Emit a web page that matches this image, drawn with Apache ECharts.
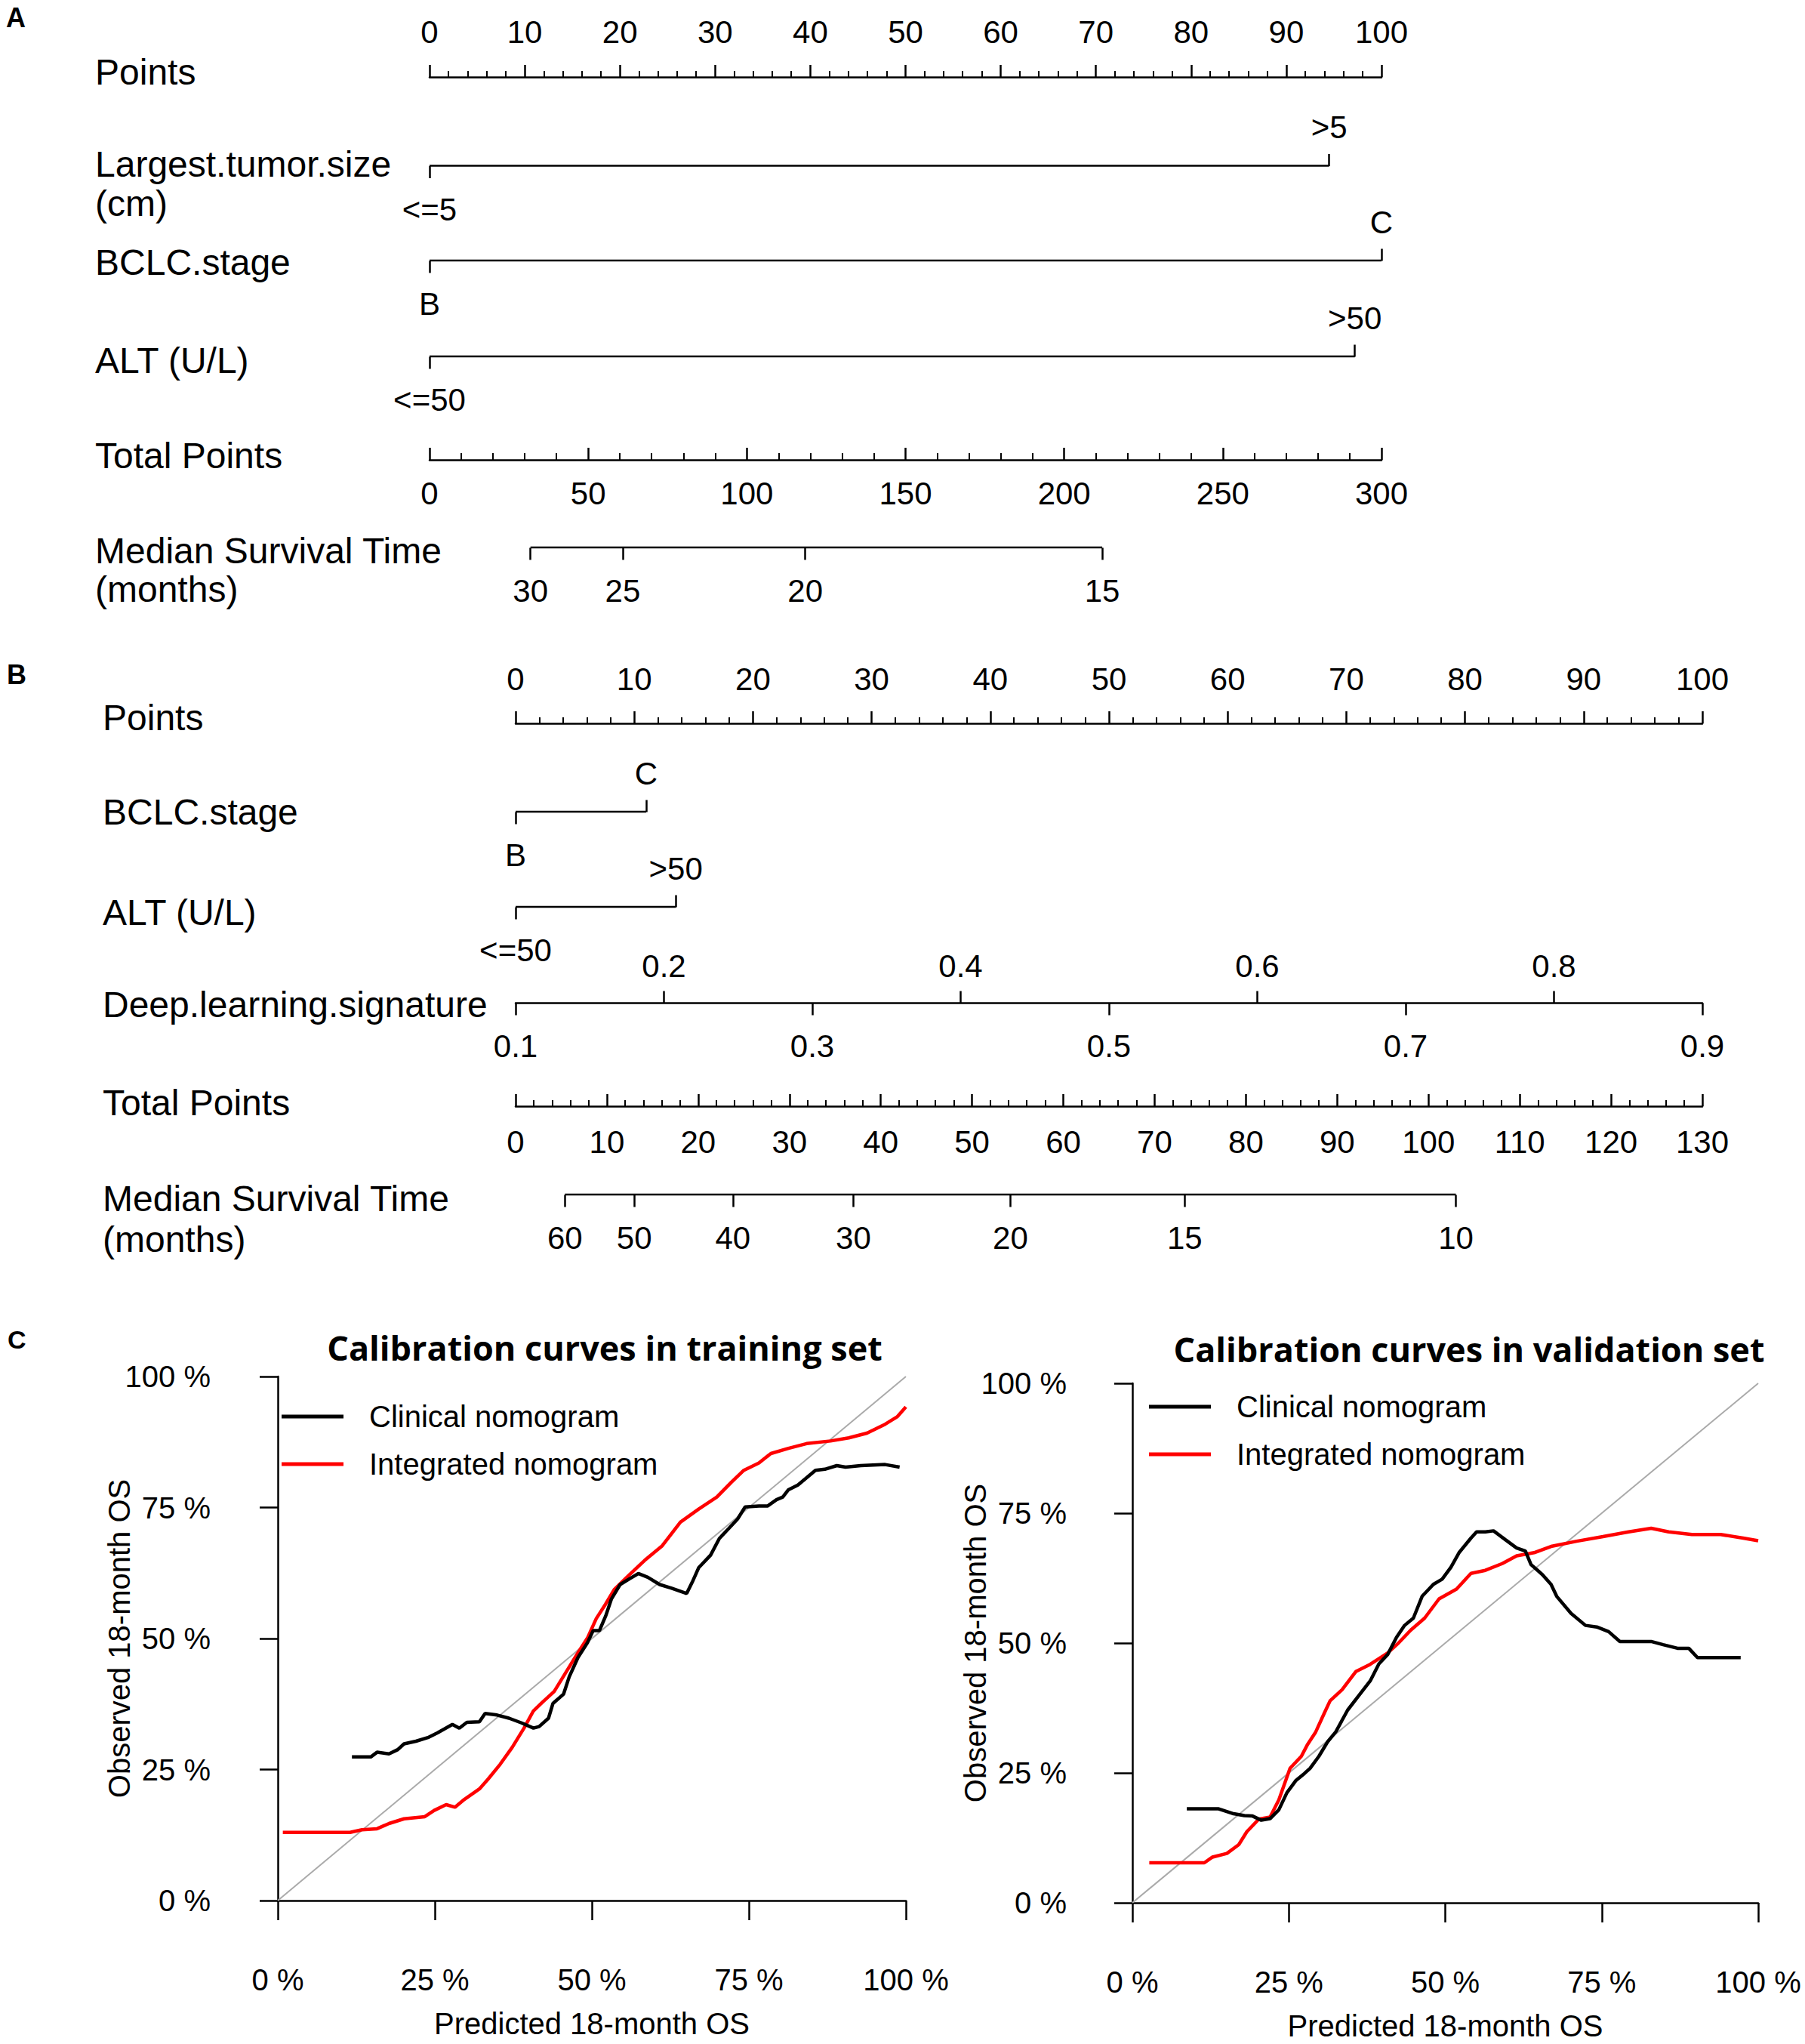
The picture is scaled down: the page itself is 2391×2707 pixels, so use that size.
<!DOCTYPE html>
<html><head><meta charset="utf-8">
<script src="https://cdn.jsdelivr.net/npm/echarts@6/dist/echarts.min.js"></script>
<style>html,body{margin:0;padding:0;background:#fff}#c{width:2391px;height:2707px}</style>
</head><body><div id="c"></div>
<script>
// ---------- Panel A: clinical nomogram ----------
const tumorLevelsA = ['<=5', '>5'];
const tumorPointsA = [0, 94.5];
const bclcLevelsA = ['B', 'C'];
const bclcPointsA = [0, 100];
const altLevelsA = ['<=50', '>50'];
const altPointsA = [0, 97.2];
const totalMaxA = 300;
const medianLabelsA = [30, 25, 20, 15];
const medianTotalPtsA = [31.8, 60.9, 118.4, 212];

// ---------- Panel B: integrated nomogram ----------
const bclcLevelsB = ['B', 'C'];
const bclcPointsB = [0, 11.0];
const altLevelsB = ['<=50', '>50'];
const altPointsB = [0, 13.5];
const dlsRange = [0.1, 0.9];
const dlsUpper = [0.2, 0.4, 0.6, 0.8];
const dlsLower = [0.1, 0.3, 0.5, 0.7, 0.9];
const totalMaxB = 130;
const medianLabelsB = [60, 50, 40, 30, 20, 15, 10];
const medianTotalPtsB = [5.4, 13.0, 23.8, 37.0, 54.2, 73.3, 103.0];

// ---------- Panel C: calibration curves (predicted %, observed %) ----------
const trainClinical = [[11.8,27.4],[14.8,27.4],[15.8,28.3],[17.7,28.0],[19.1,28.8],[20.1,29.9],[22.0,30.4],[23.9,31.1],[25.4,32.0],[27.8,33.6],[28.9,32.9],[30.1,34.0],[32.1,34.1],[33.0,35.7],[34.9,35.4],[36.8,34.8],[38.8,33.9],[40.7,32.9],[41.6,33.2],[43.1,34.8],[43.8,37.6],[45.5,39.4],[46.4,42.7],[47.8,46.4],[49.3,49.2],[50.2,51.5],[51.2,51.5],[52.2,54.3],[53.1,57.5],[54.5,60.3],[56.0,61.4],[57.4,62.4],[58.9,61.7],[60.8,60.3],[62.7,59.6],[65.1,58.6],[66.0,60.8],[67.0,63.5],[68.9,65.9],[70.3,69.1],[71.8,71.0],[73.2,72.8],[74.4,75.1],[76.6,75.3],[78.0,75.3],[79.4,76.5],[80.4,77.0],[81.3,78.4],[82.8,79.3],[84.2,80.7],[85.6,82.1],[87.1,82.3],[89.0,83.0],[90.4,82.7],[92.8,83.0],[96.7,83.2],[99.0,82.7]];
const trainIntegrated = [[0.8,13.0],[11.5,13.0],[13.4,13.5],[15.8,13.7],[17.7,14.7],[20.1,15.6],[23.4,16.0],[24.9,17.2],[26.8,18.3],[28.2,17.8],[29.7,19.3],[32.1,21.3],[33.5,23.2],[35.4,26.0],[37.3,29.2],[39.2,32.9],[40.7,36.2],[42.1,37.8],[44.0,39.9],[45.9,43.6],[47.8,47.3],[49.3,50.1],[50.7,53.8],[52.2,56.6],[53.6,59.4],[56.0,62.2],[58.4,64.9],[61.2,67.7],[64.1,72.2],[67.0,74.7],[69.9,77.0],[72.2,79.8],[74.2,82.1],[76.6,83.5],[78.5,85.3],[81.3,86.3],[84.2,87.2],[88.0,87.7],[90.9,88.3],[93.8,89.2],[96.7,90.9],[98.6,92.3],[100,94.2]];
const validClinical = [[8.7,18.1],[13.7,18.1],[16.0,17.2],[17.9,16.8],[19.2,16.7],[20.6,15.9],[22.0,16.2],[23.4,17.9],[24.7,21.2],[26.1,23.5],[27.5,24.9],[28.4,25.9],[29.8,28.2],[31.2,31.0],[32.5,32.9],[34.4,37.1],[36.2,39.9],[38.0,42.7],[39.4,46.0],[40.8,47.8],[42.2,51.1],[43.5,53.4],[44.9,54.8],[46.3,59.0],[48.1,61.3],[49.5,62.3],[50.9,64.6],[52.2,67.4],[54.1,70.2],[55.0,71.4],[56.4,71.4],[57.7,71.6],[59.6,69.9],[61.4,68.3],[62.8,67.7],[63.7,65.1],[65.5,63.2],[66.9,61.3],[67.8,59.0],[70.1,55.7],[72.4,53.4],[74.2,53.1],[76.1,52.2],[77.9,50.3],[82.9,50.3],[84.8,49.7],[87.1,49.0],[88.9,49.0],[90.3,47.2],[97.2,47.2]];
const validIntegrated = [[2.7,7.7],[11.5,7.7],[12.8,8.8],[15.1,9.5],[17.0,11.2],[18.3,13.7],[20.2,16.1],[22.0,16.5],[23.4,19.8],[25.2,25.9],[27.0,28.2],[28.0,30.5],[29.3,32.9],[30.7,36.6],[31.6,38.9],[33.5,41.0],[35.7,44.5],[38.0,45.9],[40.8,48.1],[42.6,50.1],[44.5,52.5],[46.7,54.8],[49.0,58.5],[51.8,60.4],[54.1,63.4],[56.4,64.0],[59.1,65.3],[61.4,66.8],[64.2,67.4],[66.9,68.6],[71.0,69.6],[75.2,70.5],[79.3,71.4],[82.9,72.1],[85.7,71.4],[89.4,70.9],[94.0,70.9],[97.6,70.2],[100,69.7]];
const calTicks = [0, 25, 50, 75, 100];

// ---------- builders ----------
const FONT = '"Liberation Sans", Arial, sans-serif';
const LW = 2.5;
const grids = [], xAxes = [], yAxes = [], series = [], graphics = [];
const blk = {color: '#000', width: LW};

function addGrid(left, width, top, height) {
  grids.push({left, width, top, height, containLabel: false, outerBoundsMode: 'none'});
  const g = grids.length - 1;
  yAxes.push({gridIndex: g, type: 'value', min: 0, max: 1, show: false});
  return g;
}
function baseAxis(g, min, max, position) {
  return {gridIndex: g, type: 'value', position: position, min, max,
    splitLine: {show: false}, minorSplitLine: {show: false}, axisLine: {show: false}};
}
function lbl(extra) { return Object.assign({fontSize: 42, fontFamily: FONT, color: '#000'}, extra); }
// full-length ruler (ticks pointing up)
function ruler(g, min, max, interval, minorSplit, below, majorLen, minorLen, margin) {
  const ax = baseAxis(g, min, max, 'top');
  ax.interval = interval;
  ax.axisLine = {show: true, lineStyle: blk};
  ax.axisTick = {show: true, inside: false, length: majorLen, lineStyle: blk};
  ax.minorTick = {show: true, splitNumber: minorSplit, length: minorLen, lineStyle: {color: '#000', width: 2}};
  ax.axisLabel = lbl({show: true, inside: below, margin, showMinLabel: true, showMaxLabel: true});
  xAxes.push(ax); return xAxes.length - 1;
}
// ticks/labels at given values; upper ones on a 'top' axis, lower ones on a 'bottom' axis (grid has ~0 height)
function marks(g, min, max, vals, labels, below, margin, showLine) {
  const ax = baseAxis(g, min, max, below ? 'bottom' : 'top');
  ax.axisLine = {show: !!showLine, lineStyle: blk};
  ax.axisTick = {show: true, inside: false, length: 16, lineStyle: blk, customValues: vals};
  ax.axisLabel = lbl({show: true, inside: false, margin, customValues: vals,
    formatter: v => { const i = vals.findIndex(p => Math.abs(p - v) < 1e-6); return i < 0 ? '' : String(labels[i]); }});
  xAxes.push(ax); return xAxes.length - 1;
}
function rowLine(g, xi, from, to) {
  series.push({type: 'line', xAxisIndex: xi, yAxisIndex: g, data: [[from, 1], [to, 1]], symbol: 'none',
    silent: true, clip: false, lineStyle: {color: '#000', width: LW}, z: 3});
}
const ROW_H = 0.5;
const UP_MARGIN = 30, DOWN_MARGIN = 36;
function factorRow(left, width, y, pts, levels) {
  const g = addGrid(left, width, y, ROW_H);
  const xi = marks(g, 0, 100, [pts[1]], [levels[1]], false, UP_MARGIN);
  marks(g, 0, 100, [pts[0]], [levels[0]], true, DOWN_MARGIN);
  rowLine(g, xi, pts[0], pts[1]);
}
function medianRow(left, width, y, maxTotal, pos, labels) {
  const g = addGrid(left, width, y, ROW_H);
  const xi = marks(g, 0, maxTotal, pos, labels, true, DOWN_MARGIN);
  rowLine(g, xi, pos[0], pos[pos.length - 1]);
}
function text(t, x, y, font, extra) {
  graphics.push({type: 'text', x, y, style: Object.assign({text: t, font, fill: '#000', verticalAlign: 'middle', align: 'left'}, extra || {})});
}
const rowFont = '48px ' + FONT;

// ---------- Panel A ----------
const AX0 = 569, AW = 1261;
ruler(addGrid(AX0, AW, 92, 10), 0, 100, 10, 5, false, 16, 8, 29);
factorRow(AX0, AW, 219.5, tumorPointsA, tumorLevelsA);
factorRow(AX0, AW, 345, bclcPointsA, bclcLevelsA);
factorRow(AX0, AW, 472, altPointsA, altLevelsA);
ruler(addGrid(AX0, AW, 599, 10), 0, totalMaxA, 50, 5, true, 16, 9, 33);
medianRow(AX0, AW, 725, totalMaxA, medianTotalPtsA, medianLabelsA);

text('A', 8, 23, 'bold 36px ' + FONT);
text('Points', 126, 95, rowFont);
text('Largest.tumor.size\n(cm)', 126, 243, rowFont, {lineHeight: 52});
text('BCLC.stage', 126, 347, rowFont);
text('ALT (U/L)', 126, 477, rowFont);
text('Total Points', 126, 603, rowFont);
text('Median Survival Time\n(months)', 126, 755, rowFont, {lineHeight: 51});

// ---------- Panel B ----------
const BX0 = 683, BW = 1572;
ruler(addGrid(BX0, BW, 948, 10), 0, 100, 10, 5, false, 16, 8, 28);
factorRow(BX0, BW, 1075, bclcPointsB, bclcLevelsB);
factorRow(BX0, BW, 1201, altPointsB, altLevelsB);
(function () {
  const g = addGrid(BX0, BW, 1328, ROW_H);
  marks(g, dlsRange[0], dlsRange[1], dlsUpper, dlsUpper, false, UP_MARGIN - 2, true);
  marks(g, dlsRange[0], dlsRange[1], dlsLower, dlsLower, true, DOWN_MARGIN);
})();
ruler(addGrid(BX0, BW, 1455, 10), 0, totalMaxB, 10, 5, true, 16, 8, 36);
medianRow(BX0, BW, 1582, totalMaxB, medianTotalPtsB, medianLabelsB);

text('B', 9, 893, 'bold 36px ' + FONT);
text('Points', 136, 950, rowFont);
text('BCLC.stage', 136, 1075, rowFont);
text('ALT (U/L)', 136, 1208, rowFont);
text('Deep.learning.signature', 136, 1330, rowFont);
text('Total Points', 136, 1460, rowFont);
text('Median Survival Time\n(months)', 136, 1614, rowFont, {lineHeight: 54});

// ---------- Panel C ----------
const legends = [];
function calib(left, width, top, height, yAxisX, xAxisY, clin, integ, legLeft, legTop) {
  grids.push({left, width, top, height, containLabel: false, outerBoundsMode: 'none'});
  const g = grids.length - 1;
  const axLine = {show: true, lineStyle: {color: '#000', width: 2.5}};
  const tickStyle = {color: '#000', width: 2.5};
  const tl = {fontSize: 40, fontFamily: FONT, color: '#000', formatter: '{value} %', showMinLabel: true, showMaxLabel: true};
  yAxes.push({gridIndex: g, type: 'value', position: 'left', min: 0, max: 100, interval: 25,
    offset: left - yAxisX, axisLine: axLine, axisTick: {show: true, length: 24, lineStyle: tickStyle},
    axisLabel: Object.assign({margin: 52}, tl), splitLine: {show: false},
    name: 'Observed 18-month OS', nameLocation: 'middle', nameGap: 153, nameRotate: 90, nameMoveOverlap: false,
    nameTextStyle: {fontSize: 40, fontFamily: FONT, color: '#000'}});
  xAxes.push({gridIndex: g, type: 'value', position: 'bottom', min: 0, max: 100, interval: 25,
    offset: xAxisY - (top + height), axisLine: axLine, axisTick: {show: true, length: 26, lineStyle: tickStyle},
    axisLabel: Object.assign({margin: 57}, tl), splitLine: {show: false},
    name: 'Predicted 18-month OS', nameLocation: 'middle', nameGap: 115, nameMoveOverlap: false,
    nameTextStyle: {fontSize: 40, fontFamily: FONT, color: '#000'}});
  const xi = xAxes.length - 1;
  series.push({type: 'line', xAxisIndex: xi, yAxisIndex: g, data: [[calTicks[0], calTicks[0]], [calTicks[4], calTicks[4]]],
    symbol: 'none', silent: true, lineStyle: {color: '#aaaaaa', width: 2}, z: 1});
  series.push({name: 'Clinical nomogram', type: 'line', xAxisIndex: xi, yAxisIndex: g, data: clin,
    symbol: 'none', lineStyle: {color: '#000', width: 4.5}, itemStyle: {color: '#000'}, z: 3});
  series.push({name: 'Integrated nomogram', type: 'line', xAxisIndex: xi, yAxisIndex: g, data: integ,
    symbol: 'none', lineStyle: {color: '#ff0000', width: 4.5}, itemStyle: {color: '#ff0000'}, z: 2});
  legends.push({left: legLeft, top: legTop, orient: 'vertical', icon: 'rect', itemWidth: 82, itemHeight: 5,
    itemGap: 17, selectedMode: false, data: ['Clinical nomogram', 'Integrated nomogram'],
    textStyle: {fontSize: 40, fontFamily: FONT, color: '#000', lineHeight: 46, padding: [0, 0, 0, 29]}});
}
calib(368, 832, 1823, 694, 331, 2545, trainClinical, trainIntegrated, 368, 1848);
calib(1500, 829, 1832, 688, 1465, 2548, validClinical, validIntegrated, 1517, 1835);

text('C', 10, 1774, 'bold 34px ' + FONT);
text('Calibration curves in training set', 801, 1784, 'bold 45px "Open Sans", ' + FONT, {align: 'center'});
text('Calibration curves in validation set', 1946, 1786, 'bold 45px "Open Sans", ' + FONT, {align: 'center'});

const chart = echarts.init(document.getElementById('c'), null, {renderer: 'svg', width: 2391, height: 2707});
chart.setOption({
  backgroundColor: '#fff',
  animation: false,
  grid: grids, xAxis: xAxes, yAxis: yAxes, series: series, legend: legends, graphic: graphics
});
</script></body></html>
